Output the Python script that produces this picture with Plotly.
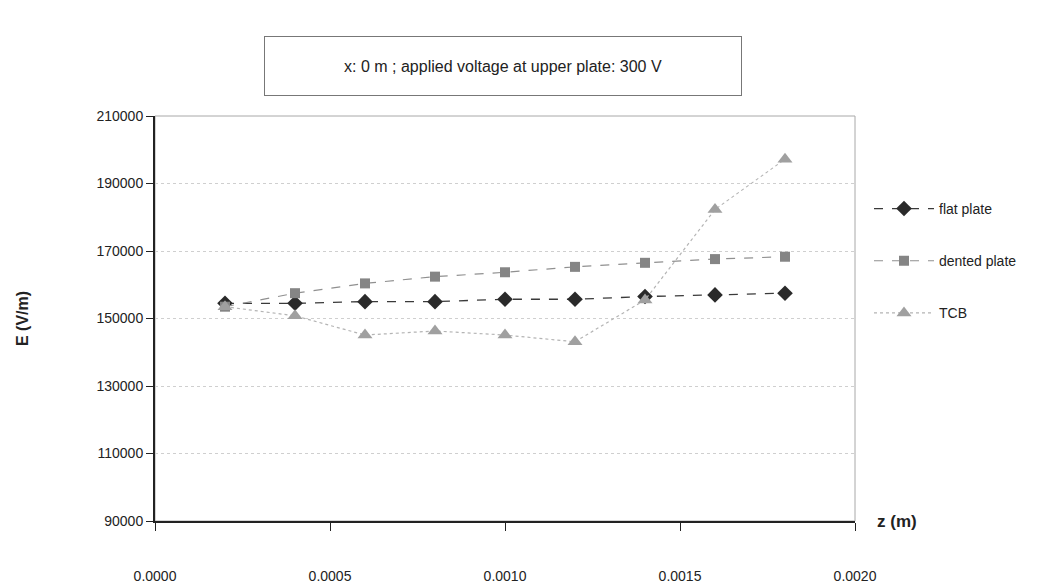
import plotly.graph_objects as go

z = [0.0002, 0.0004, 0.0006, 0.0008, 0.0010, 0.0012, 0.0014, 0.0016, 0.0018]
flat_plate = [154500, 154500, 155000, 155000, 155700, 155700, 156500, 157000, 157500]
dented_plate = [153500, 157500, 160400, 162400, 163700, 165300, 166500, 167600, 168300]
tcb = [153500, 150800, 145100, 146300, 145100, 143100, 155500, 182300, 197200]

x_ticks = [0.0, 0.0005, 0.0010, 0.0015, 0.0020]
y_ticks = [90000, 110000, 130000, 150000, 170000, 190000, 210000]

fig = go.Figure()
fig.add_trace(go.Scatter(
    x=z, y=flat_plate, name="flat plate", mode="lines+markers",
    line=dict(color="#3a3a3a", width=1.3, dash="dash"),
    marker=dict(symbol="diamond", size=12, color="#2a2a2a"),
    legendgroup="a"))
fig.add_trace(go.Scatter(
    x=z, y=dented_plate, name="dented plate", mode="lines+markers",
    line=dict(color="#909090", width=1.2, dash="dash"),
    marker=dict(symbol="square", size=10, color="#858585"),
    legendgroup="b"))
fig.add_trace(go.Scatter(
    x=z, y=tcb, name="TCB", mode="lines+markers",
    line=dict(color="#b4b4b4", width=1.2, dash="dot"),
    marker=dict(symbol="triangle-up", size=13, color="#a0a0a0"),
    legendgroup="c"))

fig.update_layout(
    width=1060, height=586,
    margin=dict(l=155, r=205, t=116, b=65),
    paper_bgcolor="white", plot_bgcolor="white",
    font=dict(family="Liberation Sans, Arial, sans-serif", size=14, color="#222"),
    showlegend=True,
    legend=dict(x=1.02, y=0.81, xanchor="left", yanchor="top",
                traceorder="grouped", tracegroupgap=31, itemwidth=60,
                font=dict(size=14, color="#222"), bgcolor="rgba(0,0,0,0)"),
    xaxis=dict(range=[0, 0.002], tickvals=x_ticks, tickformat=".4f",
               ticks="outside", ticklen=8, tickcolor="#222",
               showline=True, linecolor="#222", linewidth=2,
               showgrid=False, zeroline=False, ticklabelstandoff=33,
               automargin=False),
    yaxis=dict(range=[90000, 210000], tickvals=y_ticks, tickformat="d",
               ticks="outside", ticklen=7, tickcolor="#222",
               showline=True, linecolor="#222", linewidth=2,
               showgrid=True, gridcolor="#cfcfcf", griddash="dot", gridwidth=1,
               zeroline=False, automargin=False,
               title=dict(text="<b>E (V/m)</b>", font=dict(size=16, color="#222"), standoff=64)),
    shapes=[dict(type="rect", xref="x domain", yref="y domain",
                 x0=0, x1=1, y0=0, y1=1, line=dict(color="#a8a8a8", width=1),
                 layer="below")],
    annotations=[
        dict(text="x: 0 m ; applied voltage at upper plate: 300 V",
             xref="paper", yref="paper", x=(503 - 155) / 700, y=(521 - 66) / 405,
             xanchor="center", yanchor="middle", showarrow=False,
             font=dict(size=16, color="#222"),
             bordercolor="#777", borderwidth=1, width=474, height=56),
        dict(text="<b>z (m)</b>", xref="paper", yref="paper",
             x=(897 - 155) / 700, y=0, xanchor="center", yanchor="middle",
             showarrow=False, font=dict(size=17, color="#222")),
    ],
)
fig.write_html("out.html")
